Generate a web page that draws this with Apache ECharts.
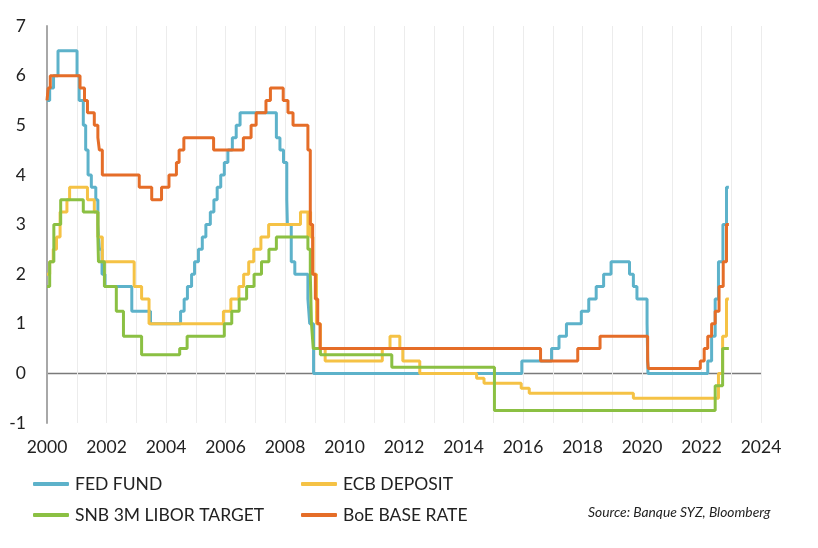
<!DOCTYPE html>
<html>
<head>
<meta charset="utf-8">
<script src="https://cdn.jsdelivr.net/npm/echarts@6/dist/echarts.min.js"></script>
<style>
html,body{margin:0;padding:0;background:#fff;}
#chart{width:818px;height:548px;}
</style>
</head>
<body>
<div id="chart"></div>
<script>
// Series names
const seriesNames = ['FED FUND', 'ECB DEPOSIT', 'SNB 3M LIBOR TARGET', 'BoE BASE RATE'];
// Y axis ticks
const yTicks = [-1, 0, 1, 2, 3, 4, 5, 6, 7];
// X axis labelled years
const xLabelYears = [2000, 2002, 2004, 2006, 2008, 2010, 2012, 2014, 2016, 2018, 2020, 2022, 2024];

// Rate change points: [decimal year, rate %]
const fedFund = [
  [2000.0, 5.5], [2000.09, 5.75], [2000.22, 6.0], [2000.37, 6.5], [2001.01, 6.0], [2001.08, 5.5],
  [2001.22, 5.0], [2001.30, 4.5], [2001.38, 4.0], [2001.49, 3.75], [2001.64, 3.5], [2001.71, 3.0],
  [2001.76, 2.5], [2001.85, 2.0], [2001.95, 1.75], [2002.85, 1.25], [2003.48, 1.0], [2004.49, 1.25],
  [2004.61, 1.5], [2004.72, 1.75], [2004.86, 2.0], [2004.96, 2.25], [2005.09, 2.5], [2005.22, 2.75],
  [2005.34, 3.0], [2005.49, 3.25], [2005.61, 3.5], [2005.72, 3.75], [2005.84, 4.0], [2005.96, 4.25],
  [2006.08, 4.5], [2006.23, 4.75], [2006.36, 5.0], [2006.49, 5.25], [2007.71, 4.75], [2007.83, 4.5],
  [2007.95, 4.25], [2008.06, 3.5], [2008.08, 3.0], [2008.21, 2.25], [2008.33, 2.0], [2008.77, 1.5],
  [2008.83, 1.0], [2008.96, 0.0], [2015.96, 0.25], [2016.96, 0.5], [2017.21, 0.75], [2017.46, 1.0],
  [2017.96, 1.25], [2018.21, 1.5], [2018.46, 1.75], [2018.71, 2.0], [2018.96, 2.25], [2019.58, 2.0],
  [2019.71, 1.75], [2019.83, 1.5], [2020.17, 1.0], [2020.2, 0.0], [2022.21, 0.25], [2022.34, 0.75],
  [2022.46, 1.5], [2022.57, 2.25], [2022.72, 3.0], [2022.84, 3.75], [2022.92, 3.75]
];
const ecbDeposit = [
  [2000.0, 2.0], [2000.09, 2.25], [2000.21, 2.5], [2000.32, 2.75], [2000.44, 3.25], [2000.67, 3.5],
  [2000.76, 3.75], [2001.36, 3.5], [2001.59, 3.25], [2001.71, 2.75], [2001.86, 2.25], [2002.93, 1.75],
  [2003.18, 1.5], [2003.43, 1.0], [2005.93, 1.25], [2006.18, 1.5], [2006.45, 1.75], [2006.61, 2.0],
  [2006.78, 2.25], [2006.95, 2.5], [2007.19, 2.75], [2007.45, 3.0], [2008.52, 3.25], [2008.77, 2.75],
  [2008.79, 3.25], [2008.86, 2.75], [2008.94, 2.0], [2009.06, 1.0], [2009.19, 0.5], [2009.35, 0.25],
  [2011.27, 0.5], [2011.53, 0.75], [2011.86, 0.5], [2011.96, 0.25], [2012.53, 0.0], [2014.44, -0.1],
  [2014.69, -0.2], [2015.94, -0.3], [2016.21, -0.4], [2019.71, -0.5], [2022.57, 0.0], [2022.71, 0.75],
  [2022.84, 1.5], [2022.92, 1.5]
];
const snbLibor = [
  [2000.0, 1.75], [2000.09, 2.25], [2000.23, 3.0], [2000.46, 3.5], [2001.22, 3.25], [2001.71, 2.75],
  [2001.73, 2.25], [2001.93, 1.75], [2002.33, 1.25], [2002.57, 0.75], [2003.18, 0.375], [2004.46, 0.5],
  [2004.71, 0.75], [2005.96, 1.0], [2006.21, 1.25], [2006.46, 1.5], [2006.71, 1.75], [2006.96, 2.0],
  [2007.21, 2.25], [2007.46, 2.5], [2007.71, 2.75], [2008.77, 2.5], [2008.85, 2.0], [2008.89, 1.0],
  [2008.95, 0.5], [2009.19, 0.375], [2011.59, 0.125], [2015.04, -0.75], [2022.46, -0.25], [2022.71, 0.5],
  [2022.92, 0.5]
];
const boeBase = [
  [2000.0, 5.5], [2000.04, 5.75], [2000.11, 6.0], [2001.11, 5.75], [2001.26, 5.5], [2001.36, 5.25],
  [2001.59, 5.0], [2001.71, 4.75], [2001.76, 4.5], [2001.86, 4.0], [2003.1, 3.75], [2003.52, 3.5],
  [2003.85, 3.75], [2004.1, 4.0], [2004.35, 4.25], [2004.44, 4.5], [2004.6, 4.75], [2005.6, 4.5],
  [2006.6, 4.75], [2006.86, 5.0], [2007.03, 5.25], [2007.36, 5.5], [2007.51, 5.75], [2007.94, 5.5],
  [2008.1, 5.25], [2008.27, 5.0], [2008.77, 4.5], [2008.85, 3.0], [2008.93, 2.0], [2009.02, 1.5],
  [2009.1, 1.0], [2009.18, 0.5], [2016.59, 0.25], [2017.84, 0.5], [2018.59, 0.75], [2020.19, 0.25],
  [2020.21, 0.1], [2021.96, 0.25], [2022.09, 0.5], [2022.21, 0.75], [2022.34, 1.0], [2022.46, 1.25],
  [2022.59, 1.75], [2022.73, 2.25], [2022.84, 3.0], [2022.92, 3.0]
];

const colors = ['#5DB2CA', '#F5C245', '#8BC043', '#E56D28'];
const FONT = 'Lato, "Noto Sans", sans-serif';

const chart = echarts.init(document.getElementById('chart'), null, {renderer: 'canvas'});

const dataSets = [fedFund, ecbDeposit, snbLibor, boeBase];
const series = seriesNames.map((name, i) => ({
  name: name,
  type: 'line',
  step: 'end',
  data: dataSets[i],
  showSymbol: false,
  symbol: 'none',
  lineStyle: {width: 3, color: colors[i]},
  itemStyle: {color: colors[i]},
  z: 2 + i
}));

const legendPos = [
  {left: 33, top: 475},
  {left: 301, top: 475},
  {left: 33, top: 506},
  {left: 301, top: 506}
];
const legends = seriesNames.map((name, i) => ({
  data: [{name: name, icon: 'roundRect'}],
  left: legendPos[i].left,
  top: legendPos[i].top,
  itemWidth: 36,
  itemHeight: 4,
  itemGap: 0,
  padding: 0,
  textStyle: {fontFamily: FONT, fontSize: 17.5, color: '#222', padding: [0, 0, 0, 1]},
  selectedMode: false
}));

const splitColors = yTicks.map(v => v === 0 ? '#7a7a7a' : 'rgba(0,0,0,0)');

chart.setOption({
  animation: false,
  backgroundColor: '#fff',
  grid: {left: 47, top: 26, width: 714, height: 397, containLabel: false},
  xAxis: {
    type: 'value',
    min: 2000,
    max: 2024,
    interval: 1,
    axisLine: {show: false},
    axisTick: {show: false},
    axisLabel: {
      margin: 15,
      fontFamily: FONT,
      fontSize: 17.5,
      color: '#222',
      formatter: v => xLabelYears.indexOf(v) >= 0 ? String(v) : ''
    },
    splitLine: {show: true, lineStyle: {color: '#ececec', width: 1}}
  },
  yAxis: {
    type: 'value',
    min: yTicks[0],
    max: yTicks[yTicks.length - 1],
    interval: 1,
    axisLine: {show: true, lineStyle: {color: '#a8a8a8', width: 2}},
    axisTick: {show: false},
    axisLabel: {margin: 21, fontFamily: FONT, fontSize: 17.5, color: '#222'},
    splitLine: {show: true, lineStyle: {color: splitColors, width: 1.3}}
  },
  legend: legends,
  graphic: [{
    type: 'text',
    left: 588,
    top: 506,
    style: {
      text: 'Source: Banque SYZ, Bloomberg',
      fontFamily: FONT,
      fontStyle: 'italic',
      fontSize: 13.8,
      fill: '#222'
    }
  }],
  series: series
});
</script>
</body>
</html>
